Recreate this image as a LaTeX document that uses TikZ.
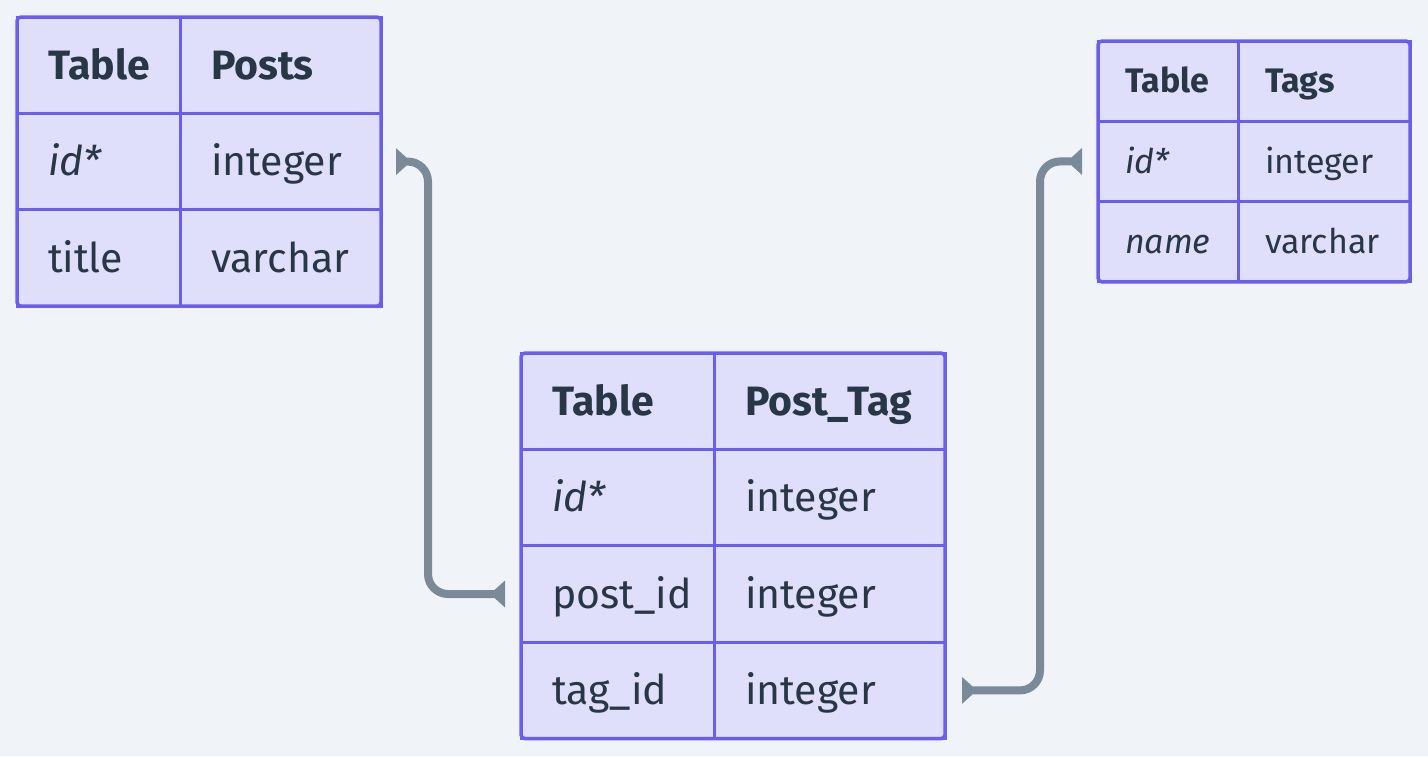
\documentclass[tikz,border=0pt]{standalone}
\usepackage{fontspec}
\setmainfont{Fira Sans}
\usetikzlibrary{positioning,fit,arrows.meta}
\definecolor{bgcol}{HTML}{F0F4F8}
\definecolor{cellfill}{HTML}{DFDEFB}
\definecolor{cellline}{HTML}{6B5CF2}
\definecolor{inkcol}{HTML}{283746}
\definecolor{linkcol}{HTML}{7A8A99}
\tikzset{
	cell/.style={draw=cellline, fill=cellfill, line width=3pt, text=inkcol, align=left, inner ysep=0pt, outer sep=0pt, text depth=0pt},
	bigcell/.style={cell, font=\fontsize{41}{41}\selectfont, inner xsep=31pt, minimum height=96.4pt, text height=28pt},
	smallcell/.style={cell, font=\fontsize{34}{34}\selectfont, inner xsep=27pt, minimum height=80.3pt, text height=23.5pt},
	frame/.style={draw=cellline, line width=3.5pt, rounded corners=4pt, inner sep=0pt},
	endtip/.tip={Triangle[reversed, length=15pt, width=26pt]},
	link/.style={draw=linkcol, line width=8pt, rounded corners=20pt, endtip-endtip}
}

\begin{document}
\begin{tikzpicture}[x=1pt, y=-1pt]
		%%%%% START %%%%%
		
		\useasboundingbox[fill=bgcol] (0, 0) rectangle (1428, 756);
		
		% Posts
		\node[bigcell, text width=101pt, anchor=north west] (posts-h1) at (17, 17) {\textbf{Table}};
		\node[bigcell, text width=139pt, right=0pt of posts-h1] (posts-h2) {\textbf{Posts}};
		\node[bigcell, text width=101pt, below=0pt of posts-h1] (posts-r1a) {\textit{id*}};
		\node[bigcell, text width=139pt, right=0pt of posts-r1a] (posts-r1b) {integer};
		\node[bigcell, text width=101pt, below=0pt of posts-r1a] (posts-r2a) {title};
		\node[bigcell, text width=139pt, right=0pt of posts-r2a] (posts-r2b) {varchar};
		\node[frame, fit=(posts-h1)(posts-r2b)] (posts) {};
		
		% Post_Tag
		\node[bigcell, text width=131pt, anchor=north west] (pt-h1) at (521, 353) {\textbf{Table}};
		\node[bigcell, text width=169pt, right=0pt of pt-h1] (pt-h2) {\textbf{Post\_Tag}};
		\node[bigcell, text width=131pt, below=0pt of pt-h1] (pt-r1a) {\textit{id*}};
		\node[bigcell, text width=169pt, right=0pt of pt-r1a] (pt-r1b) {integer};
		\node[bigcell, text width=131pt, below=0pt of pt-r1a] (pt-r2a) {post\_id};
		\node[bigcell, text width=169pt, right=0pt of pt-r2a] (pt-r2b) {integer};
		\node[bigcell, text width=131pt, below=0pt of pt-r2a] (pt-r3a) {tag\_id};
		\node[bigcell, text width=169pt, right=0pt of pt-r3a] (pt-r3b) {integer};
		\node[frame, fit=(pt-h1)(pt-r3b)] (posttag) {};
		
		% Tags
		\node[smallcell, text width=86pt, anchor=north west] (tags-h1) at (1098, 41) {\textbf{Table}};
		\node[smallcell, text width=118pt, right=0pt of tags-h1] (tags-h2) {\textbf{Tags}};
		\node[smallcell, text width=86pt, below=0pt of tags-h1] (tags-r1a) {\textit{id*}};
		\node[smallcell, text width=118pt, right=0pt of tags-r1a] (tags-r1b) {integer};
		\node[smallcell, text width=86pt, below=0pt of tags-r1a] (tags-r2a) {\textit{name}};
		\node[smallcell, text width=118pt, right=0pt of tags-r2a] (tags-r2b) {varchar};
		\node[frame, fit=(tags-h1)(tags-r2b)] (tags) {};
		
		% links
		\draw[link] ([xshift=15pt]posts-r1b.east) -- ++(32, 0) |- ([xshift=-16pt]pt-r2a.west);
		\draw[link] ([xshift=17pt]pt-r3b.east) -- ++(78, 0) |- ([xshift=-16pt]tags-r1a.west);
		
		%%%%% END %%%%%
	\end{tikzpicture}
\end{document}
